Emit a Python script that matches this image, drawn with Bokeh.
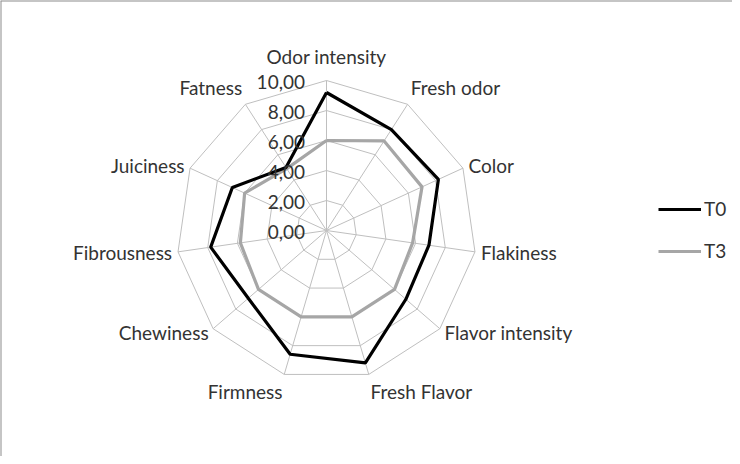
import math
from bokeh.plotting import figure
from bokeh.models import Range1d, Span, Legend, LegendItem, ColumnDataSource
from bokeh.core.properties import value
from bokeh.embed import file_html
from bokeh.resources import INLINE

categories = ["Odor intensity", "Fresh odor", "Color", "Flakiness", "Flavor intensity",
              "Fresh Flavor", "Firmness", "Chewiness", "Fibrousness", "Juiciness", "Fatness"]
t0 = [9.2, 8.0, 8.2, 6.9, 7.0, 9.2, 8.6, 6.9, 7.8, 6.9, 5.0]
t3 = [6.0, 7.1, 7.0, 5.8, 6.0, 6.0, 6.0, 6.0, 5.8, 6.0, 4.9]
ring_values = [0, 2, 4, 6, 8, 10]
ring_labels = ["0,00", "2,00", "4,00", "6,00", "8,00", "10,00"]
series_names = ["T0", "T3"]

FONT = "Lato"
FS = "19px"
TXT = "#333333"
GRID = "#bfbfbf"

W, H = 732, 456
PX = 15.0                     # pixels per value unit
cx, cy = 326, 230             # centre in frame pixels from top-left
rmax = max(ring_values)

p = figure(width=W, height=H, output_backend="svg", toolbar_location=None,
           x_range=Range1d(-cx / PX, (W - cx) / PX),
           y_range=Range1d(-(H - cy) / PX, cy / PX),
           min_border=0)
p.axis.visible = False
p.grid.visible = False
p.outline_line_color = None
p.background_fill_color = "white"
p.border_fill_color = "white"

# chart border (left and top visible)
p.add_layout(Span(location=p.x_range.start, dimension="height", line_color="#8c8c8c", line_width=2))
p.add_layout(Span(location=p.y_range.end, dimension="width", line_color="#8c8c8c", line_width=2))

n = len(categories)
angles = [2 * math.pi * i / n for i in range(n)]
sins = [math.sin(a) for a in angles]
coss = [math.cos(a) for a in angles]

# rings
xs_r, ys_r = [], []
for v in ring_values[1:]:
    xs_r.append([v * s for s in sins] + [v * sins[0]])
    ys_r.append([v * c for c in coss] + [v * coss[0]])
p.multi_line(xs_r, ys_r, line_color=GRID, line_width=1)
# spokes
p.segment(x0=[0] * n, y0=[0] * n, x1=[rmax * s for s in sins], y1=[rmax * c for c in coss],
          line_color=GRID, line_width=1)

# series
def closed(vals):
    xs = [v * s for v, s in zip(vals, sins)]
    ys = [v * c for v, c in zip(vals, coss)]
    return xs + xs[:1], ys + ys[:1]

x3, y3 = closed(t3)
r3 = p.line(x3, y3, line_color="#a6a6a6", line_width=3.2)
x0, y0 = closed(t0)
r0 = p.line(x0, y0, line_color="#000000", line_width=3.2)

# tick labels
p.text(x=[-21.5 / PX] * len(ring_values), y=[v - 1.5 / PX for v in ring_values], text=ring_labels,
       text_align="right", text_baseline="middle", text_font=value(FONT),
       text_font_size=FS, text_color=TXT)

# category labels
lx, ly, la, lb = [], [], [], []
for s, c in zip(sins, coss):
    d = 6.0
    if abs(s) < 0.1 and c > 0:
        d = 13.0
    lx.append(rmax * s + d * s / PX)
    ly.append(rmax * c + d * c / PX)
    la.append("left" if s > 0.1 else ("right" if s < -0.1 else "center"))
    lb.append("bottom" if c > 0.7 else ("top" if c < -0.7 else "middle"))
src = ColumnDataSource(dict(x=lx, y=ly, t=categories, a=la, b=lb))
p.text(x="x", y="y", text="t", text_align="a", text_baseline="b", source=src,
       text_font=value(FONT), text_font_size=FS, text_color=TXT)

legend = Legend(items=[LegendItem(label=series_names[0], renderers=[r0]),
                       LegendItem(label=series_names[1], renderers=[r3])],
                location=(658, 194), orientation="vertical")
legend.glyph_width = 43
legend.glyph_height = 20
legend.spacing = 19
legend.padding = 0
legend.margin = 0
legend.label_standoff = 3
legend.border_line_color = None
legend.background_fill_alpha = 0
legend.label_text_font = FONT
legend.label_text_font_size = FS
legend.label_text_color = TXT
legend.label_text_baseline = "middle"
legend.label_height = 20
p.add_layout(legend)

open("out.html", "w").write(file_html(p, INLINE))
